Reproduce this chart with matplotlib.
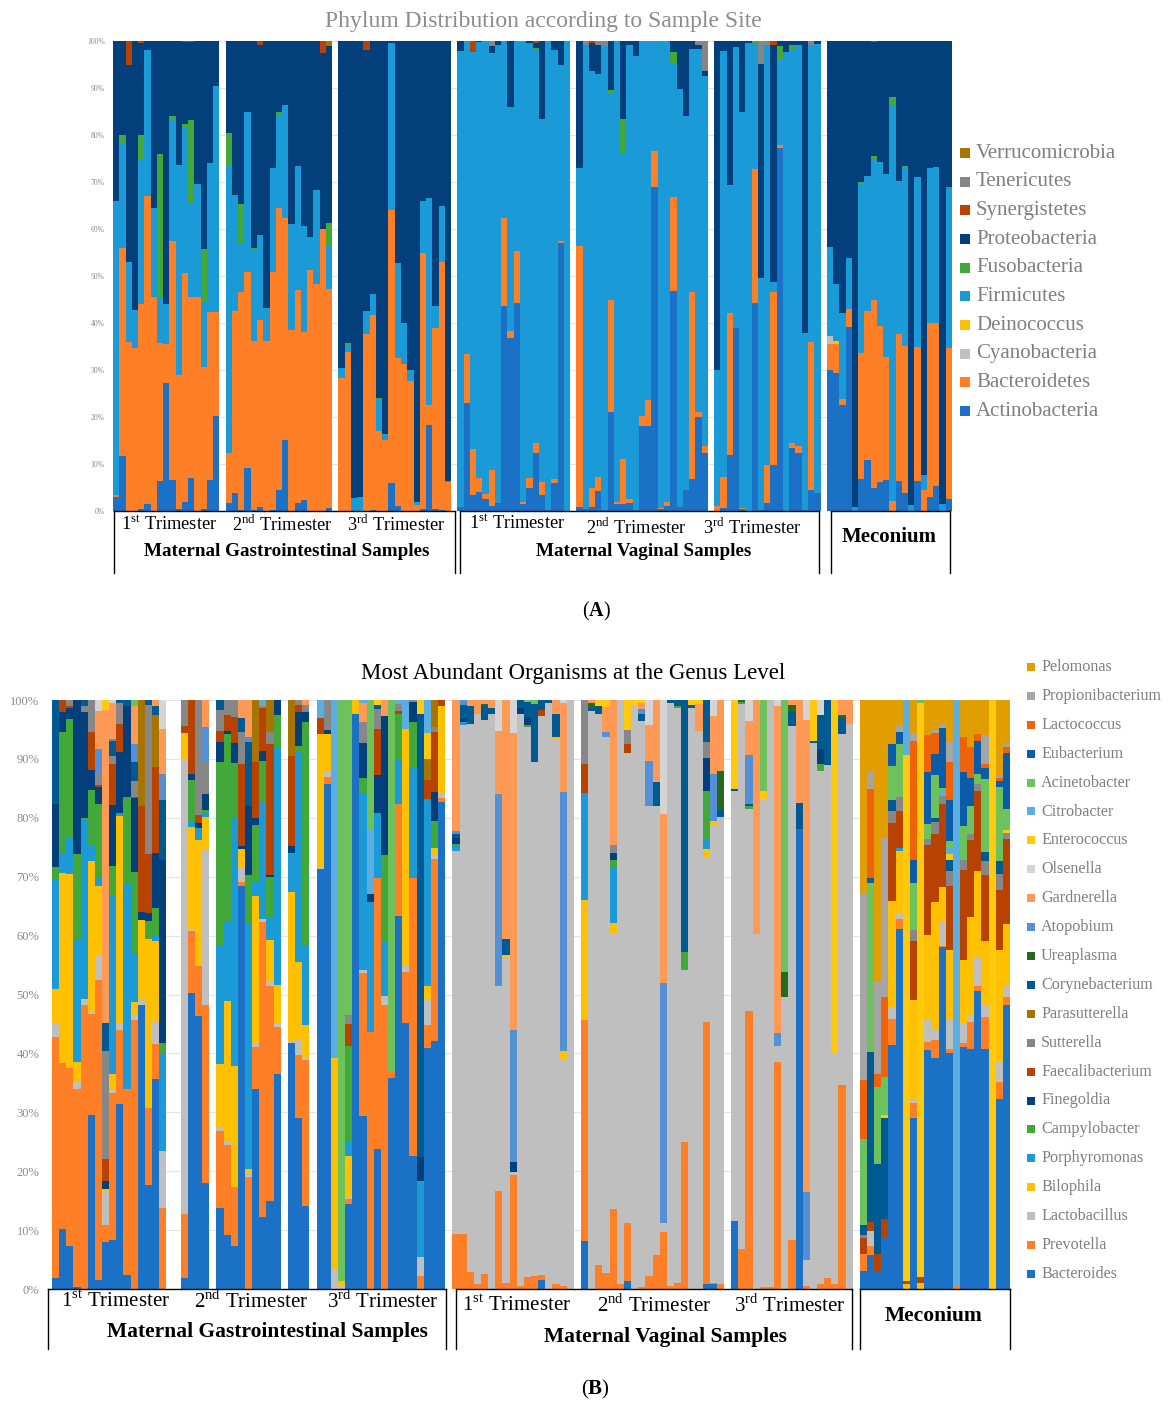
# libraries
import matplotlib
matplotlib.use("Agg")
import matplotlib.pyplot as plt
from matplotlib.lines import Line2D
from matplotlib.patches import Rectangle
import numpy as np

plt.rcParams['font.family'] = ['Liberation Serif', 'DejaVu Serif']
plt.rcParams['mathtext.fontset'] = 'custom'
plt.rcParams['mathtext.rm'] = 'Liberation Serif'
plt.rcParams['mathtext.bf'] = 'Liberation Serif:bold'

# ---------------- panel A: phylum data (% of reads, per sample) ----------------
phyla = ['Actinobacteria', 'Bacteroidetes', 'Cyanobacteria', 'Deinococcus', 'Firmicutes',
         'Fusobacteria', 'Proteobacteria', 'Synergistetes', 'Tenericutes', 'Verrucomicrobia']
phylum_keys = ['Act', 'Bac', 'Cya', 'Dei', 'Fir', 'Fus', 'Pro', 'Syn', 'Ten', 'Ver']
phylum_colors = ['#1a71c6', '#ff7f27', '#bfbfbf', '#ffc000', '#1a9bd7',
                 '#42a83a', '#033f7a', '#b84300', '#868686', '#a87400']

gi1_phylum = [
    dict(Act=3, Bac=0.5, Fir=62.5, Pro=34), dict(Act=11.8, Bac=44.2, Fir=22, Fus=2, Pro=20),
    dict(Bac=36, Fir=17, Pro=42, Syn=5), dict(Bac=34.6, Fir=8.1, Pro=57.3),
    dict(Act=0.4, Bac=43.6, Fir=31, Fus=5, Pro=19.5, Syn=0.5), dict(Act=1.5, Bac=65.5, Fir=31, Pro=2),
    dict(Bac=45.6, Fir=18.9, Pro=35.5), dict(Act=6.4, Bac=29.3, Fir=9.9, Fus=30.4, Pro=24),
    dict(Act=27.3, Bac=8.2, Fir=8.5, Pro=56), dict(Act=6.6, Bac=50.8, Fir=25.9, Fus=0.7, Pro=16),
    dict(Act=0.5, Bac=28.5, Fir=44.6, Pro=26.4), dict(Act=2, Bac=48.6, Fir=31.2, Fus=0.5, Pro=17.4, Syn=0.3),
    dict(Act=7, Bac=38.6, Fir=20, Fus=17.6, Pro=16.5, Syn=0.3), dict(Bac=45.6, Fir=23.9, Pro=30.5),
    dict(Act=0.4, Bac=30.2, Fir=13.9, Fus=11.2, Pro=44.3), dict(Act=6.5, Bac=35.9, Fir=31.6, Pro=26),
    dict(Act=20.3, Bac=22.1, Fir=48, Pro=9.6),
]
gi2_phylum = [
    dict(Act=1.6, Bac=10.7, Fir=61.2, Fus=7, Pro=19.5), dict(Act=3.8, Bac=38.8, Fir=24.6, Pro=32.8),
    dict(Act=0.2, Bac=46.3, Fir=10.4, Fus=8.4, Pro=34.7), dict(Act=9.2, Bac=41.6, Fir=34, Pro=15.2),
    dict(Act=0.2, Bac=36, Fir=19.5, Fus=0.3, Pro=44), dict(Act=0.9, Bac=39.7, Fir=18.1, Pro=40.5, Syn=0.8),
    dict(Bac=36.2, Fir=6.9, Pro=56.9), dict(Act=0.2, Bac=50.6, Fir=22.2, Pro=27),
    dict(Act=4.5, Bac=59.9, Fir=19.9, Fus=0.5, Pro=15.2), dict(Act=15.1, Bac=47.2, Fir=24, Pro=13.7),
    dict(Bac=38.5, Fir=22.5, Pro=39), dict(Act=1.8, Bac=45.2, Fir=26.5, Pro=26.5),
    dict(Act=2.3, Bac=35.7, Fir=22.6, Pro=39.4), dict(Bac=51.3, Fir=7.1, Pro=41.6),
    dict(Bac=48.3, Fir=20, Pro=31.7), dict(Bac=60, Pro=37.5, Syn=2.5),
    dict(Act=0.7, Bac=46.5, Fir=9.4, Fus=4.6, Pro=37.8, Ver=1),
]
gi3_phylum = [
    dict(Bac=28.4, Fir=2.1, Pro=69.5), dict(Bac=33.9, Fir=1.4, Fus=0.4, Pro=64.3),
    dict(Fir=2.8, Pro=97.2), dict(Fir=3, Pro=97),
    dict(Bac=37.6, Fir=5, Pro=55.4, Syn=2), dict(Act=0.2, Bac=41.5, Fir=4.4, Pro=53.9),
    dict(Bac=17, Fir=6.6, Fus=0.4, Pro=76), dict(Bac=15.2, Fir=1.1, Pro=83.7),
    dict(Act=5.9, Bac=58.1, Fir=35.5, Pro=0.5), dict(Act=1, Bac=31.5, Fir=20.2, Pro=47.3),
    dict(Bac=31.2, Fir=8.8, Pro=60), dict(Bac=27.7, Fir=2.4, Pro=69.9),
    dict(Bac=1.3, Fir=0.6, Pro=98.1), dict(Act=0.4, Bac=54.4, Fir=11.2, Pro=34),
    dict(Act=18.4, Bac=4.2, Fir=43.9, Pro=33.5), dict(Act=0.4, Bac=38.5, Fir=4.7, Pro=56.4),
    dict(Act=0.2, Bac=52.7, Fir=11.9, Pro=35.2), dict(Bac=6.2, Fir=0.2, Pro=93.6),
]
vag1_phylum = [
    dict(Act=0.9, Fir=97, Pro=2.1), dict(Act=22.9, Bac=10.6, Fir=66.5),
    dict(Act=3.3, Bac=9.8, Fir=84.6, Syn=2.3), dict(Act=4.1, Bac=2.9, Fir=92.7, Pro=0.3),
    dict(Act=2.5, Bac=1.1, Fir=96.4), dict(Act=1, Bac=7.7, Fir=88.8, Pro=1.5, Ten=1),
    dict(Act=1.6, Fir=97.6, Pro=0.8), dict(Act=43.7, Bac=18.6, Fir=37.7),
    dict(Act=36.9, Bac=1.4, Fir=47.7, Pro=14), dict(Act=44.3, Bac=11.1, Fir=44.6),
    dict(Act=1.4, Bac=0.6, Fir=98), dict(Act=4.8, Bac=2.2, Fir=92.5, Pro=0.5),
    dict(Act=12.3, Bac=2.2, Fir=83, Fus=0.5, Pro=1, Syn=0.5), dict(Act=3.5, Bac=2.7, Fir=77.1, Pro=16.7),
    dict(Act=0.2, Fir=99.8), dict(Act=5.9, Bac=0.9, Fir=91.2, Pro=2),
    dict(Act=57, Bac=0.4, Fir=37.6, Pro=5), dict(Fir=100),
]
vag2_phylum = [
    dict(Act=0.8, Bac=55.6, Fir=16.6, Pro=27), dict(Act=0.4, Fir=98.8, Ten=0.8),
    dict(Act=0.9, Bac=3.9, Fir=88.5, Fus=0.4, Pro=5.8, Syn=0.5), dict(Act=4.3, Bac=3, Fir=85.7, Pro=6.2, Ten=0.8),
    dict(Act=0.2, Fir=98.8, Ten=1), dict(Act=21.1, Bac=23.9, Fir=43.7, Fus=0.8, Pro=10.5),
    dict(Act=1.4, Bac=0.6, Fir=98), dict(Act=1.4, Bac=9.6, Fir=65, Fus=7.5, Pro=16.5),
    dict(Act=1.8, Bac=0.7, Fir=96.6, Pro=0.9), dict(Act=0.2, Fir=96.6, Pro=3.2),
    dict(Act=18, Bac=2.3, Fir=79.7), dict(Act=18, Bac=5.6, Fir=76.4),
    dict(Act=69, Bac=7.6, Fir=23.4), dict(Act=0.4, Bac=0.3, Fir=99.3),
    dict(Act=1, Bac=1, Fir=98), dict(Act=46.8, Bac=20.1, Fir=28.5, Fus=2.3, Pro=2.3),
    dict(Act=0.8, Fir=88.9, Pro=10.3), dict(Act=4.5, Fir=79.5, Pro=16),
    dict(Act=6.8, Bac=39.9, Fir=51.7, Pro=1.6), dict(Act=20, Bac=1.1, Fir=77.3, Pro=0.8, Ten=0.8),
    dict(Act=12.4, Bac=1.4, Fir=78.7, Pro=1.1, Ten=6.4),
]
vag3_phylum = [
    dict(Bac=1, Fir=29, Pro=70), dict(Act=0.7, Bac=6.6, Fir=90.6, Pro=2.1),
    dict(Act=11.9, Bac=30.3, Fir=26.9, Fus=0.2, Pro=30.7), dict(Act=39, Fir=59.8, Pro=1.2),
    dict(Act=0.4, Bac=0.3, Fir=84.3, Pro=15), dict(Fir=99.5, Pro=0.5),
    dict(Act=44.3, Bac=28.4, Fir=26.8, Fus=0.5), dict(Act=0.2, Fir=49.4, Pro=45.6, Ten=4.8),
    dict(Act=1.8, Bac=8, Fir=89.4, Ten=0.8), dict(Act=9.8, Bac=36.9, Fir=2.1, Pro=50.3, Syn=0.9),
    dict(Act=77.3, Bac=0.6, Fir=18.1, Fus=3, Pro=1), dict(Fir=97.6, Pro=2.4),
    dict(Act=13.5, Bac=0.9, Fir=83.7, Fus=1.1, Pro=0.8), dict(Act=12.3, Bac=1.5, Fir=85.4, Pro=0.8),
    dict(Act=0.2, Fir=37.6, Pro=62.2), dict(Act=4.5, Bac=31.5, Fir=63.1, Ten=0.9),
    dict(Act=3.9, Fir=95.5, Pro=0.6),
]
mec_phylum = [
    dict(Act=30.1, Bac=5.4, Cya=1.7, Fir=19, Pro=43.8), dict(Act=29.3, Bac=6.2, Dei=0.7, Fir=12.2, Pro=51.6),
    dict(Act=22.6, Bac=1.2, Fir=18.4, Pro=57.8), dict(Act=39.2, Bac=3.8, Fir=10.8, Pro=46.2),
    dict(Fir=0.8, Pro=99.2), dict(Act=6.8, Bac=26.9, Fir=36, Fus=0.3, Pro=30),
    dict(Act=10.9, Bac=31.7, Fir=28.7, Pro=28.7), dict(Act=5, Bac=40, Fir=29.7, Fus=0.9, Pro=24.2, Syn=0.2),
    dict(Act=6.1, Bac=33.3, Fir=34.9, Pro=25.7), dict(Act=6.6, Bac=26.1, Fir=39.1, Pro=28.2),
    dict(Bac=2.1, Fir=84.1, Fus=1.8, Pro=12), dict(Act=6.4, Bac=31.2, Fir=32.6, Pro=29.8),
    dict(Act=3.8, Bac=31.3, Fir=37.8, Fus=0.4, Pro=26.7), dict(Fir=1.3, Pro=98.7),
    dict(Act=6.4, Bac=28.6, Fir=36.1, Pro=28.9), dict(Bac=4.5, Fir=3.2, Pro=92.3),
    dict(Act=3, Bac=37, Fir=33, Pro=27), dict(Act=5.3, Bac=34.7, Fir=33.1, Pro=26.9),
    dict(Fir=1.5, Pro=98.5), dict(Act=2.6, Bac=32, Fir=34.4, Pro=31),
]

# ---------------- panel B: genus data ----------------
genera = ['Bacteroides', 'Prevotella', 'Lactobacillus', 'Bilophila', 'Porphyromonas', 'Campylobacter',
          'Finegoldia', 'Faecalibacterium', 'Sutterella', 'Parasutterella', 'Corynebacterium',
          'Ureaplasma', 'Atopobium', 'Gardnerella', 'Olsenella', 'Enterococcus', 'Citrobacter',
          'Acinetobacter', 'Eubacterium', 'Lactococcus', 'Propionibacterium', 'Pelomonas']
genus_keys = ['Bac', 'Pre', 'Lac', 'Bil', 'Por', 'Cam', 'Fin', 'Fae', 'Sut', 'Par', 'Cor',
              'Ure', 'Ato', 'Gar', 'Ols', 'Ent', 'Cit', 'Aci', 'Eub', 'Lcc', 'Prp', 'Pel']
genus_colors = ['#1a71c6', '#ff7f27', '#bfbfbf', '#ffc000', '#1a9bd7', '#42a83a',
                '#033f7a', '#b84300', '#878787', '#a87400', '#005a92',
                '#256a1f', '#5590d5', '#ff9a56', '#d4d4d4', '#ffc90e', '#5baee0',
                '#6ec25c', '#0a5ba8', '#f0620a', '#a5a5a5', '#e09e00']

gi1_genus = [
    dict(Bac=1.8, Pre=41, Lac=2.3, Bil=5.7, Por=18.5, Cam=2.3, Fin=10.7, Cor=17.6),
    dict(Bac=10.2, Pre=28.1, Bil=32.2, Por=3.4, Cam=20.6, Fin=3.4, Fae=2),
    dict(Bac=7.3, Pre=30.2, Bil=33, Por=6, Cam=20.3, Fin=1.8, Fae=0.4, Sut=1),
    dict(Bac=0.3, Pre=33.6, Lac=1.3, Bil=3.3, Por=20.8, Cam=14.4, Fin=26.2),
    dict(Pre=48.3, Lac=0.9, Por=30.5, Cam=0.2, Fin=18, Cor=1.1, Sut=1),
    dict(Bac=29.5, Pre=17.1, Lac=0.3, Bil=25.7, Por=2.6, Cam=9.5, Fin=3.3, Fae=6.5, Sut=5.4),
    dict(Bac=1.6, Pre=50.8, Lac=4.1, Bil=12, Por=1.5, Cam=12.3, Fin=3, Fae=0.3, Sut=1.9, Ato=4.2, Gar=6.5, Ols=1.8),
    dict(Bac=7.9, Pre=3, Lac=5.8, Bil=0.3, Fin=1.3, Fae=3.7, Sut=18.3, Cor=4.8, Gar=53.1, Ent=1.7),
    dict(Bac=8.3, Pre=25, Lac=0.6, Bil=2.7, Por=30.4, Cam=4.9, Fin=10.4, Fae=7, Sut=1.2, Cor=2.7, Ato=0.2, Gar=6.2, Ols=0.5),
    dict(Bac=31.4, Pre=12.6, Lac=1.1, Bil=35.1, Por=0.6, Fin=10.3, Fae=4.7, Sut=3.6, Cor=0.5),
    dict(Bac=2.4, Pre=31.6, Por=35, Cam=14.6, Fin=15.3, Cor=1.1),
    dict(Pre=45.7, Lac=0.9, Bil=2.1, Por=8.3, Cam=13.8, Fin=12.5, Fae=0.3, Sut=2.6, Cor=3.3, Ato=3, Gar=6.4, Aci=1.1),
    dict(Bac=48.2, Lac=0.8, Bil=13.6, Fin=1.3, Fae=18.1, Par=17.9),
    dict(Bac=17.7, Pre=13, Bil=28.7, Cam=3.1, Fin=1.4, Fae=10, Sut=25.3, Cor=0.8),
    dict(Bac=35.5, Pre=5.9, Lac=3.9, Bil=13.6, Por=1, Cam=4.6, Fin=9.2, Fae=14.5, Par=8.9, Cor=1.5, Gar=1),
    dict(Pre=13.8, Lac=9.7, Por=16.6, Cam=1.6, Fin=31.1, Cor=10.2, Ato=4.5, Gar=7.5, Ols=5),
]
gi2a_genus = [
    dict(Bac=1.8, Pre=11, Lac=77.2, Bil=4.4, Fae=1.2, Sut=4.4),
    dict(Bac=50.2, Pre=10.6, Lac=0.4, Bil=17.2, Por=1.1, Cam=7, Fin=1, Fae=12.5),
    dict(Bac=46.3, Pre=8.5, Bil=21.5, Por=1.9, Fin=0.9, Fae=1.3, Sut=19.6),
    dict(Bac=18, Pre=30.3, Lac=26.2, Bil=5.7, Por=0.6, Cam=0.6, Fin=2.7, Sut=5.3, Ato=6, Gar=4.6),
]
gi2b_genus = [
    dict(Bac=13.8, Pre=13, Lac=0.5, Bil=10.9, Por=20, Cam=31.2, Fin=3.4, Fae=2, Sut=3.5, Cor=1.7),
    dict(Bac=9.2, Pre=15.3, Lac=0.5, Bil=23.9, Por=13.6, Cam=31.8, Fin=0.5, Fae=2.7, Sut=2.5),
    dict(Bac=7.3, Pre=10, Bil=20.5, Por=42.4, Cam=9.1, Fin=3.4, Fae=4.4, Sut=2.9),
    dict(Bac=68.7, Pre=0.8, Lac=2.4, Bil=3.1, Fin=0.6, Fae=14, Sut=5.5, Cor=2.3, Gar=3.1),
    dict(Pre=19, Lac=0.6, Bil=0.8, Por=41.5, Cam=8.4, Fin=11.7, Cor=10.7, Ato=1, Gar=6.2),
    dict(Bac=34, Pre=7, Lac=0.5, Bil=25.2, Por=2.3, Cam=9.7, Fin=1.2, Fae=9.4, Par=10.6),
    dict(Bac=12.3, Pre=50, Lac=0.5, Por=20, Cam=6.9, Fin=1.6, Fae=7.4, Sut=0.3, Cit=1),
    dict(Bac=15, Pre=36.5, Lac=0.8, Bil=7, Por=3.9, Cam=6.8, Fin=0.3, Fae=22.3, Sut=2.1, Par=5.4),
    dict(Bac=36.5, Pre=7.9, Lac=0.6, Bil=6.5, Por=40.2, Cam=5.5, Fin=2.6),
]
gi2c_genus = [
    dict(Bac=41.7, Lac=0.3, Bil=25.4, Por=6.5, Fin=1.3, Fae=15.2, Par=9.5),
    dict(Bac=29, Pre=10.8, Lac=2.6, Bil=13.1, Por=35.7, Cam=1, Fin=5.7, Fae=1.3, Sut=0.8),
    dict(Bac=14.1, Pre=24.7, Lac=0.5, Bil=5.3, Por=13.6, Cam=37.7, Fin=1.6, Sut=1.3, Gar=0.8),
]
gi3_genus = [
    dict(Bac=71.3, Lac=0.5, Bil=22.6, Fae=2.6, Cit=3.1),
    dict(Bac=85.8, Pre=1.1, Lac=1.1, Bil=6.3, Fin=0.6, Sut=5.1),
    dict(Lac=3.4, Bil=35.9, Cit=60.8),
    dict(Lac=0.6, Bil=0.8, Aci=98.6),
    dict(Bac=14.4, Pre=0.8, Lac=0.5, Bil=6.8, Por=2.4, Cam=16.3, Fae=3.8, Sut=1.6, Aci=53.4),
    dict(Bac=97.6, Bil=2.4),
    dict(Bac=29.4, Pre=24.3, Lac=0.5, Por=29.9, Cam=2.6, Fin=6, Sut=3.6, Gar=3.2, Cit=0.5),
    dict(Pre=43.7, Por=22, Fin=1.3, Cit=11, Aci=22),
    dict(Bac=23.7, Pre=46, Por=11.1, Fin=6.4, Fae=7.9, Sut=3.3, Cor=0.8, Ent=0.8),
    dict(Pre=48.3, Lac=1.5, Por=9.1, Cam=14.8, Fin=23.6, Gar=2.7),
    dict(Bac=35.9, Pre=1, Aci=63.1),
    dict(Bac=63.3, Pre=19, Por=7.5, Cam=7.8, Fae=0.5, Sut=1.3, Cit=0.6),
    dict(Bac=45.1, Pre=8.6, Lac=1.3, Bil=39.9, Cit=5),
    dict(Bac=22.5, Pre=47.3, Por=18.8, Cam=7.6, Fin=3.4, Sut=0.4),
    dict(Pre=2.2, Lac=3.3, Por=12.8, Fin=4.1, Cor=75.3, Ent=2.3),
    dict(Bac=42, Pre=3.9, Lac=4.4, Bil=2.5, Por=32.5, Fae=3.2, Par=3.8, Ent=4.5, Cit=5.7),
    dict(Bac=42, Pre=30.9, Lac=0.5, Bil=1.3, Cam=4.6, Fin=4.9, Fae=10.2, Sut=0.8, Par=4.6),
    dict(Bac=82.7, Pre=0.6, Lac=0.7, Bil=15, Fae=1),
]
vag1_genus = [
    dict(Pre=9.4, Lac=64.9, Por=1, Cam=0.2, Fin=1.1, Cor=0.7, Ato=0.4, Gar=22.3),
    dict(Pre=9.4, Lac=86.2, Por=0.6, Fin=0.4, Cor=2.4, Ato=0.9),
    dict(Pre=2.9, Lac=93.1, Cor=2.9, Gar=1.1),
    dict(Pre=0.9, Lac=96.7, Gar=2.4),
    dict(Pre=2.6, Lac=94, Cor=2.3, Ure=0.5, Gar=0.6),
    dict(Lac=97.6, Cor=1, Gar=1.4),
    dict(Pre=16.7, Lac=34.8, Ato=32.6, Gar=10.6, Ols=5.3),
    dict(Pre=1.1, Lac=55.2, Bil=0.3, Cor=2.7, Gar=40.6),
    dict(Pre=19.4, Lac=0.4, Fin=1.7, Ato=22.6, Gar=50.4, Ols=5.6),
    dict(Pre=0.5, Lac=97.2, Fin=1, Cor=1.3),
    dict(Pre=2.1, Lac=93.4, Cam=0.3, Fin=1.3, Cor=2.6, Aci=0.3),
    dict(Pre=2.2, Lac=87.3, Cor=9.8, Aci=0.7),
    dict(Bac=1.6, Pre=0.8, Lac=94.9, Fae=1, Cor=1.7),
    dict(Lac=99.5, Cor=0.5),
    dict(Pre=0.9, Lac=92.8, Bil=0.5, Cor=3.9, Gar=2.4),
    dict(Pre=0.5, Lac=38.6, Bil=1.3, Ato=43.9, Gar=15.2, Ols=0.5),
    dict(Lac=100),
]
vag2_genus = [
    dict(Bac=8.1, Pre=37.6, Bil=20.3, Por=18.2, Fae=5, Sut=10.8),
    dict(Lac=98.2, Cor=0.5, Ure=0.8, Gar=0.5),
    dict(Pre=4, Lac=93.4, Cor=1.3, Ent=1.1),
    dict(Pre=2.7, Lac=91, Ato=0.8, Gar=4.3, Ent=1.2),
    dict(Pre=13.5, Lac=46.7, Bil=2, Por=9.4, Cam=1.2, Fin=1.3, Sut=1.3, Gar=24.6),
    dict(Pre=0.8, Lac=99.2),
    dict(Bac=1.4, Pre=9.8, Lac=79.4, Fae=1.5, Sut=2.4, Ent=5.1),
    dict(Lac=99, Ent=1),
    dict(Pre=0.3, Lac=96.1, Cor=1.3, Ato=0.8, Gar=1, Ent=0.5),
    dict(Pre=2.2, Lac=79.8, Ato=7.7, Gar=6.1, Ols=4.2),
    dict(Pre=5.8, Lac=76.2, Cor=4, Gar=14),
    dict(Pre=9.6, Lac=1.6, Ato=40.8, Gar=28.6, Ols=19.4),
    dict(Pre=0.5, Lac=99, Cor=0.5),
    dict(Pre=1.1, Lac=97.5, Cam=0.3, Cor=1.1),
    dict(Pre=25, Lac=29.2, Cam=3, Cor=42.8),
    dict(Lac=98.6, Cor=0.5, Ent=0.9),
    dict(Lac=94.7, Gar=4.7, Ent=0.6),
    dict(Bac=0.8, Pre=44.2, Lac=27.8, Bil=1.3, Por=1.6, Cam=8.2, Fin=5.7, Sut=2.6, Cor=7.1),
    dict(Bac=0.8, Pre=0.3, Lac=77.7, Bil=0.6, Fae=0.1, Ato=8, Gar=9.7, Ols=2.8),
    dict(Pre=0.8, Lac=79.4, Cor=1.2, Ure=6.5, Gar=12.1),
]
vag3_genus = [
    dict(Bac=11.5, Lac=73.1, Cor=0.3, Ent=15.1),
    dict(Pre=6.8, Lac=92.6, Cam=0.3, Ure=0.3),
    dict(Pre=47.4, Lac=34.5, Cam=0.5, Cor=0.3, Ato=8.3, Gar=5.8, Ols=3.6),
    dict(Lac=60.2, Gar=39.8),
    dict(Pre=0.3, Lac=82.7, Ent=1.6, Aci=15.4),
    dict(Pre=0.3, Lac=99.7),
    dict(Pre=38.5, Lac=2.7, Ato=2.3, Gar=55.5, Ols=1),
    dict(Lac=49.5, Ure=4.4, Aci=46.1),
    dict(Pre=8.3, Lac=87.3, Cor=2.3, Ure=1.3, Gar=0.8),
    dict(Bac=78.1, Cor=4.4, Gar=17.5),
    dict(Pre=0.5, Lac=4.5, Ato=11.4, Gar=80.2, Ols=3.4),
    dict(Lac=92.7, Cor=0.3, Ent=7),
    dict(Pre=0.8, Lac=87.2, Cam=1.1, Fin=2.6, Cor=5.8, Ols=2.5),
    dict(Pre=1.8, Lac=87, Cor=11.1),
    dict(Pre=0.8, Lac=39.3, Ent=59.9),
    dict(Pre=34.7, Lac=59.6, Cor=2.6, Ure=0.5, Gar=2.6),
    dict(Lac=96, Gar=4),
]
mec_genus = [
    dict(Bac=3, Pre=3, Fae=2.6, Sut=0.6, Cor=1.7, Aci=14.6, Lcc=10, Prp=31.5, Pel=33),
    dict(Bac=5.7, Pre=1.6, Lac=2.6, Fae=1.4, Cor=29, Aci=28.7, Eub=0.8, Lcc=15.1, Prp=3.1, Pel=12),
    dict(Bac=3, Fae=3, Cor=15.3, Aci=13, Lcc=2.3, Prp=15.5, Pel=48),
    dict(Bac=8.6, Fae=3.2, Cor=17.2, Ent=0.6, Aci=6.4, Lcc=13.6, Prp=26.9, Pel=23.5),
    dict(Bac=41.4, Pre=4.5, Lac=2, Bil=17.9, Fae=13.3, Sut=2.1, Cor=1.8, Aci=5.8, Eub=3.7, Pel=7.5),
    dict(Bac=61.1, Pre=1.7, Lac=1.1, Bil=10.6, Por=0.5, Fae=6.2, Sut=2.4, Aci=9.1, Eub=2, Prp=1.1, Pel=4.3),
    dict(Bil=0.8, Fae=0.6, Ent=89.3, Cit=9.3),
    dict(Bac=29, Pre=2.6, Lac=0.5, Bil=17, Fae=9.9, Sut=2, Aci=7.9, Eub=3.9, Lcc=20.3, Prp=1.3, Pel=5.6),
    dict(Bil=1.1, Fae=1, Ent=97.4, Aci=0.5),
    dict(Bac=40.7, Pre=1.3, Lac=3.7, Bil=14.5, Fae=15.3, Sut=1, Aci=2.6, Eub=8.8, Lcc=6.2, Pel=6),
    dict(Bac=39.2, Pre=3.1, Lac=1.6, Bil=21.8, Fae=11.6, Sut=2, Cor=0.6, Aci=7.3, Eub=3.6, Lcc=3.6, Prp=0.5, Pel=5.1),
    dict(Bac=58, Pre=0.3, Lac=4.1, Bil=5.9, Fae=14.1, Sut=1.3, Cit=0.8, Aci=0.5, Eub=10.2, Prp=0.8, Pel=4),
    dict(Bac=40.1, Pre=0.6, Lac=4.9, Bil=12, Fae=10.9, Sut=2.5, Cor=1.9, Ent=1, Cit=1.1, Aci=1.1, Eub=6.9, Lcc=6.5, Prp=3.4, Pel=7.1),
    dict(Pre=0.5, Cit=99.5),
    dict(Bac=41.1, Pre=0.7, Lac=3.4, Bil=10.6, Fae=15.4, Sut=1.7, Aci=5.7, Eub=9.1, Lcc=6, Pel=6.3),
    dict(Bac=40.7, Pre=4.6, Lac=1.3, Bil=16.6, Fae=13.1, Sut=1, Aci=4.7, Eub=4.7, Lcc=5.4, Pel=7.9),
    dict(Bac=50.7, Pre=0.8, Lac=4.9, Bil=14.7, Fae=13.5, Sut=1.2, Aci=1.7, Eub=5.7, Lcc=1.2, Pel=5.7),
    dict(Bac=40.7, Pre=5.5, Lac=1.8, Bil=11, Fae=11.3, Sut=2.3, Cor=1.6, Aci=12.3, Eub=1.8, Lcc=0.7, Prp=4.9, Pel=6),
    dict(Ent=100),
    dict(Bac=32.3, Pre=2.9, Lac=3.4, Bil=19, Fae=10.1, Sut=2.7, Cor=2.2, Aci=12.6, Eub=1, Lcc=0.6, Prp=0.3, Pel=12.9),
    dict(Bac=48.1, Pre=1.5, Lac=1.9, Bil=10.4, Fae=14.4, Sut=1, Ent=0.6, Aci=3.5, Eub=9.5, Lcc=1.1, Prp=0.6, Pel=7.3),
]

# ---------------- figure ----------------
W, H = 1173, 1402
fig = plt.figure(figsize=(W / 100, H / 100), dpi=100)


def px_axes(x0, y0, x1, y1):
    return fig.add_axes([x0 / W, 1 - y1 / H, (x1 - x0) / W, (y1 - y0) / H])


def ftext(x, y, s, **kw):
    kw.setdefault('ha', 'center')
    kw.setdefault('va', 'center')
    fig.text(x / W, 1 - y / H, s, **kw)


def fline(x0, y0, x1, y1):
    fig.add_artist(Line2D([x0 / W, x1 / W], [1 - y0 / H, 1 - y1 / H], color='black', lw=1.0))


def box(x0, x1, y0, y1):
    fline(x0, y0, x1, y0)
    fline(x0, y0, x0, y1)
    fline(x1, y0, x1, y1)


def stacked(ax, groups, gaps, keys, colors):
    # 100% stacked columns, one column per sample, empty slots between groups
    xs, rows, pos = [], [], 0
    for bars, gap in zip(groups, gaps):
        for b in bars:
            xs.append(pos + 0.5)
            rows.append([b.get(k, 0) for k in keys])
            pos += 1
        pos += gap
    vals = np.array(rows, float)
    vals = vals / vals.sum(1, keepdims=True) * 100
    bottom = np.zeros(len(xs))
    for j in range(len(keys)):
        ax.bar(xs, vals[:, j], 1.0, bottom=bottom, color=colors[j], linewidth=0, zorder=2)
        bottom += vals[:, j]
    ax.set_xlim(0, pos - gaps[-1])
    ax.set_ylim(0, 100)


def style(ax, size, color, pad):
    ticks = list(range(0, 101, 10))
    ax.set_yticks(ticks)
    ax.set_yticklabels([f'{t}%' for t in ticks], fontsize=size, color=color)
    ax.tick_params(axis='y', length=0, pad=pad)
    ax.set_xticks([])
    for s in ax.spines.values():
        s.set_visible(False)
    ax.yaxis.grid(True, color='#e4e4e4', lw=0.8, zorder=0)
    ax.set_axisbelow(True)


def legend(x, y0, dy, names, colors, size, sq, color):
    for i, (n, c) in enumerate(zip(names[::-1], colors[::-1])):
        y = y0 + i * dy
        fig.add_artist(Rectangle((x / W, 1 - (y + sq / 2) / H), sq / W, sq / H,
                                 transform=fig.transFigure, color=c, lw=0))
        ftext(x + sq + 6, y, n, ha='left', fontsize=size, color=color)


# ---- panel A ----
axA = px_axes(113, 41, 952, 511)
stacked(axA, [gi1_phylum, gi2_phylum, gi3_phylum, vag1_phylum, vag2_phylum, vag3_phylum, mec_phylum],
        [1, 1, 1, 1, 1, 1, 0], phylum_keys, phylum_colors)
style(axA, 5.5, '#8c8c8c', 6)
ftext(543, 22, 'Phylum Distribution according to Sample Site', fontsize=17, color='#8c8c8c')
legend(960, 153, 28.67, phyla, phylum_colors, 15, 10, '#7f7f7f')

box(113.5, 455, 511, 573)
box(460, 819, 511, 573)
box(831, 950, 511, 573)
tri = ['1$^{\\mathrm{st}}$ Trimester', '2$^{\\mathrm{nd}}$ Trimester', '3$^{\\mathrm{rd}}$ Trimester']
for x, s in zip([169, 282, 396], tri):
    ftext(x, 525, s, fontsize=13.2)
for x, y, s in zip([517, 636, 752], [524, 528, 528], tri):
    ftext(x, y, s, fontsize=13.2)
ftext(287, 551, 'Maternal Gastrointestinal Samples', fontsize=13.8, fontweight='bold')
ftext(644, 551, 'Maternal Vaginal Samples', fontsize=13.8, fontweight='bold')
ftext(889, 537, 'Meconium', fontsize=15, fontweight='bold')
ftext(596, 611, '($\\mathbf{A}$)', fontsize=14.5)

# ---- panel B ----
axB = px_axes(52, 700, 1010, 1289)
stacked(axB, [gi1_genus, gi2a_genus, gi2b_genus, gi2c_genus, gi3_genus,
              vag1_genus, vag2_genus, vag3_genus, mec_genus],
        [2, 1, 1, 1, 1, 1, 1, 1, 0], genus_keys, genus_colors)
style(axB, 9, '#8c8c8c', 9)
ftext(573, 673, 'Most Abundant Organisms at the Genus Level', fontsize=16.5)
legend(1027, 667, 28.9, genera, genus_colors, 11.6, 8, '#7f7f7f')

box(48, 446, 1289, 1349)
box(456, 852, 1289, 1349)
box(860, 1010, 1289, 1349)
for x, s in zip([116, 251, 383], tri):
    ftext(x, 1301, s, fontsize=15)
for x, s in zip([517, 654, 790], tri):
    ftext(x, 1305, s, fontsize=15)
ftext(267, 1332, 'Maternal Gastrointestinal Samples', fontsize=15.5, fontweight='bold')
ftext(665, 1337, 'Maternal Vaginal Samples', fontsize=15.5, fontweight='bold')
ftext(934, 1316, 'Meconium', fontsize=15.5, fontweight='bold')
ftext(595, 1389, '($\\mathbf{B}$)', fontsize=15)

fig.savefig('out.png', dpi=100)
